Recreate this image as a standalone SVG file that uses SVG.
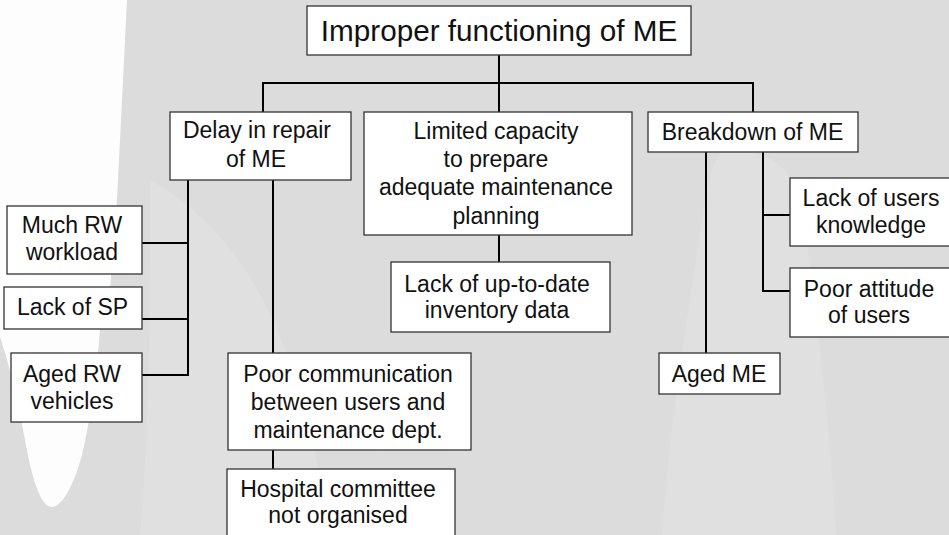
<svg xmlns="http://www.w3.org/2000/svg" width="949" height="535" viewBox="0 0 949 535">
  <style>
    .box { fill: #ffffff; stroke: #333333; stroke-width: 1.3; }
    .lbl { font-family: "Liberation Sans", Arial, sans-serif; font-size: 23px; fill: #111111; text-anchor: middle; }
    .title { font-size: 29.7px; }
    .wire { fill: none; stroke: #000000; stroke-width: 2; stroke-linecap: square; }
  </style>

  <!-- backdrop -->
  <rect x="0" y="0" width="949" height="535" fill="#dcdcdc"/>
  <path d="M150,180 C240,230 300,330 330,535 L140,535 C150,420 150,300 150,180 Z" fill="#e1e1e1" opacity="0.8"/>
  <path d="M728,150 C760,150 790,160 800,200 C815,300 830,420 836,535 L662,535 C670,420 690,300 705,200 C712,165 718,150 728,150 Z" fill="#e0e0e0"/>
  <path d="M0,0 L127,0 L117,200 L110,290 L100,330 C96,380 90,420 82,455 C74,485 62,507 52,507 C42,507 33,485 25,440 C18,400 8,360 0,337 Z" fill="#fdfdfd"/>

  <!-- connectors -->
  <g id="connectors">
    <path class="wire" d="M499,55 V112"/>
    <path class="wire" d="M263,112 V83 H753 V112"/>
    <path class="wire" d="M188,180 V375 H142 M188,243 H142 M188,319 H142"/>
    <path class="wire" d="M273,180 V353 M273,450 V469"/>
    <path class="wire" d="M499,235 V262"/>
    <path class="wire" d="M706,152 V353"/>
    <path class="wire" d="M763,152 V291 H790 M763,215 H790"/>
  </g>

  <!-- nodes -->
  <g id="root">
    <rect class="box" x="307" y="6" width="384" height="49"/>
    <text class="lbl title" x="499" y="41">Improper functioning of ME</text>
  </g>
  <g id="delay-repair">
    <rect class="box" x="170" y="112" width="181" height="68"/>
    <text class="lbl" x="257" y="138" textLength="148" lengthAdjust="spacing">Delay in repair</text>
    <text class="lbl" x="256" y="167">of ME</text>
  </g>
  <g id="limited-capacity">
    <rect class="box" x="364" y="112" width="268" height="123"/>
    <text class="lbl" x="496" y="139">Limited capacity</text>
    <text class="lbl" x="496" y="167">to prepare</text>
    <text class="lbl" x="496" y="195">adequate maintenance</text>
    <text class="lbl" x="496" y="224">planning</text>
  </g>
  <g id="breakdown">
    <rect class="box" x="648" y="112" width="210" height="40"/>
    <text class="lbl" x="752.5" y="140">Breakdown of ME</text>
  </g>
  <g id="users-knowledge">
    <rect class="box" x="790" y="178" width="160" height="68"/>
    <text class="lbl" x="871" y="206">Lack of users</text>
    <text class="lbl" x="871" y="233">knowledge</text>
  </g>
  <g id="users-attitude">
    <rect class="box" x="790" y="268" width="160" height="69"/>
    <text class="lbl" x="869" y="297">Poor attitude</text>
    <text class="lbl" x="869" y="323">of users</text>
  </g>
  <g id="aged-me">
    <rect class="box" x="659" y="353" width="121" height="41"/>
    <text class="lbl" x="719" y="382">Aged ME</text>
  </g>
  <g id="rw-workload">
    <rect class="box" x="7" y="206" width="135" height="68"/>
    <text class="lbl" x="72" y="233">Much RW</text>
    <text class="lbl" x="72" y="260">workload</text>
  </g>
  <g id="lack-sp">
    <rect class="box" x="4" y="287" width="138" height="42"/>
    <text class="lbl" x="72.5" y="315">Lack of SP</text>
  </g>
  <g id="rw-vehicles">
    <rect class="box" x="11" y="353" width="131" height="69"/>
    <text class="lbl" x="72" y="382">Aged RW</text>
    <text class="lbl" x="72" y="409">vehicles</text>
  </g>
  <g id="poor-communication">
    <rect class="box" x="228" y="353" width="243" height="97"/>
    <text class="lbl" x="348" y="382">Poor communication</text>
    <text class="lbl" x="348" y="410">between users and</text>
    <text class="lbl" x="348" y="438">maintenance dept.</text>
  </g>
  <g id="hospital-committee">
    <rect class="box" x="227" y="469" width="228" height="80"/>
    <text class="lbl" x="338" y="497">Hospital committee</text>
    <text class="lbl" x="338" y="523">not organised</text>
  </g>
  <g id="inventory-data">
    <rect class="box" x="391" y="262" width="219" height="70"/>
    <text class="lbl" x="497" y="292">Lack of up-to-date</text>
    <text class="lbl" x="497" y="318">inventory data</text>
  </g>
</svg>
